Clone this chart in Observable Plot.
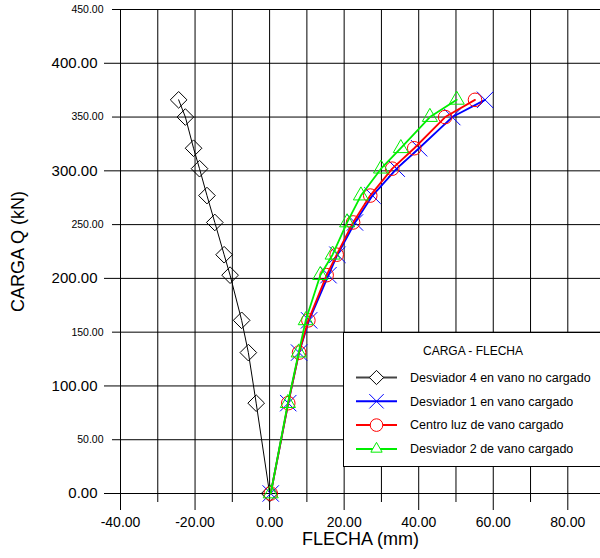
<!DOCTYPE html>
<html>
<head>
<meta charset="utf-8">
<script src="https://cdn.jsdelivr.net/npm/d3@7"></script>
<script src="https://cdn.jsdelivr.net/npm/@observablehq/plot@0.6"></script>
<style>
  html, body { margin: 0; padding: 0; background: #fff; overflow: hidden; }
  #chart svg { display: block; overflow: hidden; }
</style>
</head>
<body>
<div id="chart"></div>
<script>
// Load steps (kN) and measured deflections (mm)
const carga = [0, 84, 131, 161, 203, 222, 252, 277, 302, 321, 350, 366];
const desviador4 = [0, -3.6, -5.7, -7.5, -10.6, -12.2, -14.7, -16.8, -18.8, -20.4, -22.6, -24.4];
const desviador1 = [0.3, 5.0, 7.9, 10.6, 15.8, 18.2, 22.9, 27.6, 34.1, 40.1, 49.0, 57.8];
const centroLuz  = [0.3, 5.0, 7.9, 10.4, 15.3, 18.0, 22.4, 27.0, 32.9, 38.8, 47.1, 55.1];
const desviador2 = [0.3, 4.9, 7.8, 9.7, 13.6, 16.9, 20.8, 24.5, 29.9, 35.2, 43.0, 50.2];

const serieNames = [
  "Desviador 4 en vano no cargado",
  "Desviador 1 en vano cargado",
  "Centro luz de vano cargado",
  "Desviador 2 de vano cargado"
];
const serieColors = ["#000000", "#0000ff", "#ff0000", "#00ee00"];
const serieSymbols = ["diamond2", "times", "circle", "triangle2"];
const serieValues = [desviador4, desviador1, centroLuz, desviador2];

const xTicksMajor = [-40, -20, 0, 20, 40, 60, 80];
const xTicksMinor = [-30, -10, 10, 30, 50, 70];
const yTicksMajor = [0, 100, 200, 300, 400];
const yTicksMinor = [50, 150, 250, 350, 450];

const legendTitle = "CARGA - FLECHA";
const xTitle = "FLECHA (mm)";
const yTitle = "CARGA Q (kN)";

const font = "'Liberation Sans', Arial, sans-serif";
const fmt = d => d.toFixed(2);

const series = serieNames.map((name, i) => ({
  name,
  color: serieColors[i],
  symbol: serieSymbols[i],
  rows: carga.map((q, j) => ({x: serieValues[i][j], y: q}))
}));

// marker radii in the chart and in the legend
const symbolR = {diamond2: 7.5, times: 7.5, circle: 6.8, triangle2: 7.2};
const legendR = {diamond2: 6.4, times: 6.6, circle: 6.3, triangle2: 5.4};

const seriesMarks = series.flatMap(s => [
  Plot.line(s.rows, {x: "x", y: "y", stroke: s.color, strokeWidth: s.color === "#000000" ? 1 : 1.8}),
  Plot.dot(s.rows, {x: "x", y: "y", symbol: () => s.symbol, r: symbolR[s.symbol], stroke: s.color, fill: "none", strokeWidth: 1})
]);

const plot = Plot.plot({
  width: 600,
  height: 558,
  marginLeft: 120,
  marginRight: 0,
  marginTop: 9,
  marginBottom: 65,
  x: {domain: [-40, 88.77], axis: null},
  y: {domain: [0, 450], axis: null},
  symbol: {type: "identity"},
  style: {fontFamily: font, background: "#fff", color: "#000"},
  marks: [
    // grid with tick stubs below / left of the frame
    Plot.ruleX(xTicksMinor, {x: d => d, stroke: "#000", strokeWidth: 1, insetBottom: -9}),
    Plot.ruleX(xTicksMajor, {x: d => d, stroke: "#000", strokeWidth: 1, insetBottom: -17}),
    Plot.ruleY(yTicksMinor, {y: d => d, stroke: "#000", strokeWidth: 1, insetLeft: -8}),
    Plot.ruleY(yTicksMajor, {y: d => d, stroke: "#000", strokeWidth: 1, insetLeft: -16}),
    // tick labels
    Plot.text(xTicksMajor, {x: d => d, frameAnchor: "bottom", dy: 33, text: fmt, fontSize: 14, fill: "#000"}),
    Plot.text(yTicksMajor, {y: d => d, frameAnchor: "left", dx: -23, textAnchor: "end", text: fmt, fontSize: 15, fill: "#000"}),
    Plot.text(yTicksMinor, {y: d => d, frameAnchor: "left", dx: -17, textAnchor: "end", text: fmt, fontSize: 10.5, fill: "#000"}),
    // axis titles
    Plot.text([xTitle], {frameAnchor: "bottom", dy: 51, text: d => d, fontSize: 18, fill: "#000"}),
    Plot.text([yTitle], {frameAnchor: "left", dx: -102, rotate: -90, textAnchor: "middle", text: d => d, fontSize: 18, fill: "#000"}),
    ...seriesMarks
  ]
});

document.getElementById("chart").appendChild(plot);

// Legend box in the lower right corner of the frame
const svg = d3.select(plot);
const lg = svg.append("g").attr("font-family", font).attr("text-anchor", "start");
lg.append("rect")
  .attr("x", 343.5).attr("y", 332.5)
  .attr("width", 300).attr("height", 134)
  .attr("fill", "#fff").attr("stroke", "#000").attr("stroke-width", 1);
lg.append("text")
  .attr("x", 473).attr("y", 355)
  .attr("text-anchor", "middle")
  .attr("font-size", 12)
  .attr("fill", "#000")
  .text(legendTitle);

const d3Symbols = {
  diamond2: d3.symbolDiamond2,
  times: d3.symbolTimes,
  circle: d3.symbolCircle,
  triangle2: d3.symbolTriangle2
};
const legendLineColor = ["#444", "#0000ff", "#ff0000", "#00ee00"];

series.forEach((s, i) => {
  const cy = 377.5 + i * 23.8;
  const row = lg.append("g");
  row.append("line")
    .attr("x1", 356).attr("x2", 397)
    .attr("y1", cy).attr("y2", cy)
    .attr("stroke", legendLineColor[i]).attr("stroke-width", 2);
  const r = legendR[s.symbol];
  row.append("path")
    .attr("transform", `translate(376.5,${cy})`)
    .attr("d", d3.symbol(d3Symbols[s.symbol], Math.PI * r * r)())
    .attr("fill", s.symbol === "times" ? "none" : "#fff")
    .attr("stroke", s.color).attr("stroke-width", 1);
  row.append("text")
    .attr("x", 410).attr("y", cy)
    .attr("dy", "0.35em")
    .attr("text-anchor", "start")
    .attr("font-size", 12.5)
    .attr("fill", "#000")
    .text(s.name);
});
</script>
</body>
</html>
